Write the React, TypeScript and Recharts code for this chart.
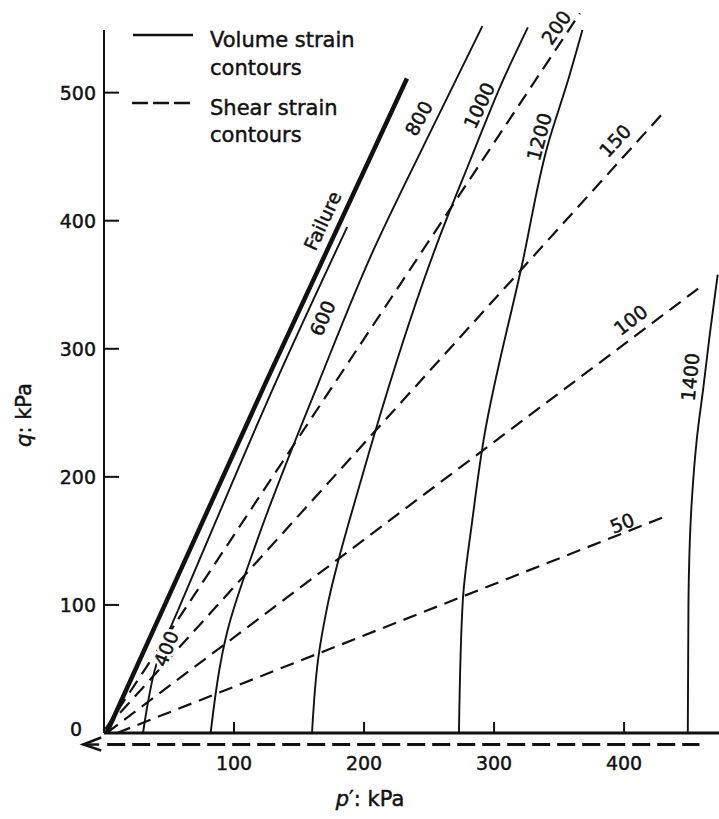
import React from 'react';
import { LineChart, Line, XAxis, YAxis, ReferenceLine, ReferenceDot } from 'recharts';

type Pt = { p: number; q: number };

const FONT = '"DejaVu Sans", sans-serif';
const INK = '#111';

// axis ticks (kPa)
const pTicks = [100, 200, 300, 400];
const qTicks = [0, 100, 200, 300, 400, 500];

// failure line
const failure: Pt[] = [
  { p: 2, q: 0 }, { p: 70, q: 152 }, { p: 125, q: 275 }, { p: 233, q: 511 },
];

// volume strain contours (solid)
const vol400: Pt[] = [{ p: 30, q: 0 }, { p: 34, q: 25 }, { p: 39, q: 49 }, { p: 57, q: 96 }];
const vol600: Pt[] = [{ p: 57, q: 96 }, { p: 80, q: 151 }, { p: 133, q: 276 }, { p: 187, q: 395 }];
const vol800: Pt[] = [
  { p: 82, q: 0 }, { p: 95, q: 80 }, { p: 118, q: 151 }, { p: 166, q: 276 },
  { p: 205, q: 372 }, { p: 247, q: 461 }, { p: 291, q: 552 },
];
const vol1000: Pt[] = [
  { p: 160, q: 0 }, { p: 165, q: 60 }, { p: 172, q: 100 }, { p: 197, q: 195 },
  { p: 258, q: 387 }, { p: 282, q: 448 }, { p: 307, q: 510 }, { p: 326, q: 551 },
];
const vol1200: Pt[] = [
  { p: 273, q: 0 }, { p: 276, q: 104 }, { p: 283, q: 164 }, { p: 292, q: 229 },
  { p: 322, q: 368 }, { p: 341, q: 458 }, { p: 357, q: 510 }, { p: 368, q: 549 },
];
const vol1400: Pt[] = [
  { p: 449, q: 0 }, { p: 449.5, q: 100 }, { p: 452, q: 180 }, { p: 456, q: 230 },
  { p: 461, q: 270 }, { p: 466, q: 312 }, { p: 472, q: 358 },
];

// shear strain contours (dashed)
const shear0: Pt[] = [{ p: -16, q: -9 }, { p: 458, q: -9 }];
const shear50: Pt[] = [{ p: 10, q: 0 }, { p: 434, q: 170 }];
const shear100: Pt[] = [{ p: 2, q: 0 }, { p: 457, q: 347 }];
const shear150: Pt[] = [{ p: 1, q: 3 }, { p: 429, q: 483 }];
const shear200: Pt[] = [{ p: 1, q: 3 }, { p: 366, q: 562 }];

// contour labels
const contourLabels = [
  { text: 'Failure', p: 168, q: 400, angle: -65, halo: false },
  { text: '400', p: 47.7, q: 66, angle: -68, halo: true },
  { text: '600', p: 168, q: 324, angle: -66, halo: false },
  { text: '800', p: 242, q: 480, angle: -61, halo: false },
  { text: '1000', p: 288.5, q: 490, angle: -65, halo: false },
  { text: '1200', p: 334.6, q: 465.6, angle: -75, halo: false },
  { text: '1400', p: 450.8, q: 278, angle: -84, halo: false },
  { text: '200', p: 347.7, q: 551, angle: -55, halo: false },
  { text: '150', p: 393, q: 462.5, angle: -47, halo: false },
  { text: '100', p: 405, q: 322.6, angle: -38, halo: false },
  { text: '50', p: 398.5, q: 164, angle: -22, halo: false },
];

const volumeSeries = [
  { name: 'v400', data: vol400 },
  { name: 'v600', data: vol600 },
  { name: 'v800', data: vol800 },
  { name: 'v1000', data: vol1000 },
  { name: 'v1200', data: vol1200 },
  { name: 'v1400', data: vol1400 },
];

const shearSeries = [
  { name: 's50', data: shear50 },
  { name: 's100', data: shear100 },
  { name: 's150', data: shear150 },
  { name: 's200', data: shear200 },
];

// slightly heavier type, like the printed original
const textStyle = { fontFamily: FONT, fill: INK, stroke: INK, strokeWidth: 0.45 };

const XTick = ({ x, y, payload }: any) => (
  <g>
    <line x1={x} y1={y} x2={x} y2={y - 11} stroke={INK} strokeWidth={2} />
    <text x={x} y={y + 37} textAnchor="middle" fontSize={19} {...textStyle}>
      {payload.value}
    </text>
  </g>
);

const YTick = ({ x, y, payload }: any) => {
  const zero = payload.value === 0;
  return (
    <g>
      {!zero && <line x1={x} y1={y} x2={x + 15} y2={y} stroke={INK} strokeWidth={2} />}
      <text
        x={zero ? x - 22 : x - 8}
        y={zero ? y + 3 : y + 7}
        textAnchor="end"
        fontSize={19}
        {...textStyle}
      >
        {payload.value}
      </text>
    </g>
  );
};

// dashed zero contour below the p' axis, with arrow head at its left end
const ZeroContour = (props: any) => {
  const { x1, y1, x2, y2 } = props;
  return (
    <g>
      <line x1={x1 + 24} y1={y1} x2={x2} y2={y2} stroke={INK} strokeWidth={3} strokeDasharray="18 7" />
      <path d={`M${x1 + 18},${y1 - 7} L${x1},${y1} L${x1 + 18},${y1 + 6}`} fill="none" stroke={INK} strokeWidth={2.5} />
      <line x1={x1} y1={y1} x2={x1 + 16} y2={y1} stroke={INK} strokeWidth={2.5} />
    </g>
  );
};

const CurveText = ({ cx, cy, text, angle, halo }: any) => (
  <g transform={`rotate(${angle} ${cx} ${cy})`}>
    {halo && (
      <text x={cx} y={cy} textAnchor="middle" dominantBaseline="central" fontSize={19} fontFamily={FONT}
        fill="#fff" stroke="#fff" strokeWidth={6}>
        {text}
      </text>
    )}
    <text x={cx} y={cy} textAnchor="middle" dominantBaseline="central" fontSize={19} {...textStyle}>
      {text}
    </text>
  </g>
);

export default function App() {
  return (
    <div style={{ position: 'absolute', left: 0, top: 0, width: 719, height: 819, background: '#fff' }}>
      <LineChart width={719} height={819} margin={{ top: 3, right: 0, bottom: 46, left: 44 }}>
        <XAxis
          type="number"
          dataKey="p"
          domain={[0, 473]}
          ticks={pTicks}
          height={40}
          tickSize={0}
          tickMargin={0}
          tickLine={false}
          axisLine={{ stroke: INK, strokeWidth: 3 }}
          tick={<XTick />}
          label={{
            content: () => (
              <text x={370} y={806} textAnchor="middle" fontSize={21} {...textStyle}>
                <tspan fontStyle="italic">p</tspan>′: kPa
              </text>
            ),
          }}
        />
        <YAxis
          type="number"
          dataKey="q"
          domain={[0, 570]}
          ticks={qTicks}
          width={60}
          tickSize={0}
          tickMargin={0}
          tickLine={false}
          axisLine={false}
          tick={<YTick />}
          label={{
            content: () => (
              <text
                x={24}
                y={415}
                textAnchor="middle"
                dominantBaseline="central"
                transform="rotate(-90 24 415)"
                fontSize={21}
                {...textStyle}
              >
                <tspan fontStyle="italic">q</tspan>: kPa
              </text>
            ),
          }}
        />

        <ReferenceLine
          segment={[{ x: 0, y: 0 }, { x: 0, y: 549 }]}
          stroke={INK}
          strokeWidth={2}
          ifOverflow="visible"
        />
        <ReferenceLine
          segment={[{ x: shear0[0].p, y: shear0[0].q }, { x: shear0[1].p, y: shear0[1].q }]}
          ifOverflow="visible"
          shape={<ZeroContour />}
        />

        {shearSeries.map((s) => (
          <Line
            key={s.name}
            name={s.name}
            data={s.data}
            dataKey="q"
            type="linear"
            stroke={INK}
            strokeWidth={2.2}
            strokeDasharray="14 8"
            dot={false}
            activeDot={false}
            isAnimationActive={false}
          />
        ))}

        {volumeSeries.map((s) => (
          <Line
            key={s.name}
            name={s.name}
            data={s.data}
            dataKey="q"
            type="monotoneY"
            stroke={INK}
            strokeWidth={1.9}
            dot={false}
            activeDot={false}
            isAnimationActive={false}
          />
        ))}

        <Line
          name="failure"
          data={failure}
          dataKey="q"
          type="linear"
          stroke={INK}
          strokeWidth={4.5}
          dot={false}
          activeDot={false}
          isAnimationActive={false}
        />

        {contourLabels.map((l) => (
          <ReferenceDot
            key={l.text}
            x={l.p}
            y={l.q}
            r={0}
            ifOverflow="visible"
            shape={(props: any) => <CurveText {...props} text={l.text} angle={l.angle} halo={l.halo} />}
          />
        ))}
      </LineChart>

      {/* legend */}
      <svg width={719} height={819} style={{ position: 'absolute', left: 0, top: 0, pointerEvents: 'none' }}>
        <line x1={133} y1={35} x2={193} y2={35} stroke={INK} strokeWidth={2.5} />
        <text x={210} y={47} fontSize={21} {...textStyle}>Volume strain</text>
        <text x={210} y={75} fontSize={21} {...textStyle}>contours</text>
        <line x1={132} y1={103} x2={192} y2={103} stroke={INK} strokeWidth={2.5} strokeDasharray="16 5" />
        <text x={210} y={115} fontSize={21} {...textStyle}>Shear strain</text>
        <text x={210} y={142} fontSize={21} {...textStyle}>contours</text>
      </svg>
    </div>
  );
}
